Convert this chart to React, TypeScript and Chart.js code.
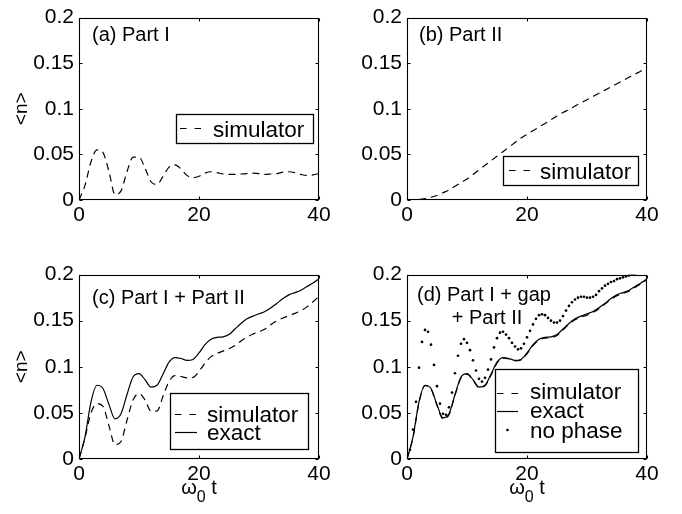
import React, { useEffect, useRef } from "react";
import { Chart, registerables } from "chart.js";

Chart.register(...registerables);

// ---------------- data ----------------
const T_INT = [0, 1, 2, 3, 4, 5, 6, 7, 8, 9, 10, 11, 12, 13, 14, 15, 16, 17, 18, 19, 20,
  21, 22, 23, 24, 25, 26, 27, 28, 29, 30, 31, 32, 33, 34, 35, 36, 37, 38, 39, 40];

const T_HALF = [0, 0.5, 1, 1.5, 2, 2.5, 3, 3.5, 4, 4.5, 5, 5.5, 6, 6.5, 7, 7.5, 8, 8.5, 9, 9.5,
  10, 10.5, 11, 11.5, 12, 12.5, 13, 13.5, 14, 14.5, 15, 15.5, 16, 16.5, 17, 17.5, 18, 18.5, 19, 19.5,
  20, 20.5, 21, 21.5, 22, 22.5, 23, 23.5, 24, 24.5, 25, 25.5, 26, 26.5, 27, 27.5, 28, 28.5, 29, 29.5,
  30, 30.5, 31, 31.5, 32, 32.5, 33, 33.5, 34, 34.5, 35, 35.5, 36, 36.5, 37, 37.5, 38, 38.5, 39, 39.5, 40];

// (a) Part I — simulator
const PART1_SIM = [0, 0.016, 0.042, 0.055, 0.052, 0.031, 0.006, 0.010, 0.031, 0.047, 0.047,
  0.035, 0.020, 0.017, 0.026, 0.036, 0.0385, 0.034, 0.027, 0.0245, 0.026,
  0.0295, 0.031, 0.030, 0.0285, 0.028, 0.028, 0.0285, 0.029, 0.0295, 0.029,
  0.028, 0.0285, 0.029, 0.0305, 0.031, 0.030, 0.028, 0.027, 0.0275, 0.029];

// (b) Part II — simulator
const PART2_SIM = [0, 0, 0.0005, 0.0015, 0.003, 0.005, 0.008, 0.011, 0.015, 0.019, 0.023,
  0.028, 0.033, 0.038, 0.043, 0.048, 0.053, 0.058, 0.063, 0.068, 0.072,
  0.076, 0.080, 0.084, 0.088, 0.092, 0.096, 0.099, 0.103, 0.1065, 0.110,
  0.1135, 0.117, 0.1205, 0.124, 0.1275, 0.131, 0.1345, 0.138, 0.1415, 0.1455];

// (c) Part I + Part II
const BOTH_SIM = [0, 0.023, 0.050, 0.060, 0.057, 0.036, 0.0155, 0.019, 0.042, 0.064, 0.071,
  0.064, 0.052, 0.052, 0.068, 0.084, 0.0905, 0.0895, 0.088, 0.0885, 0.095,
  0.104, 0.111, 0.1145, 0.117, 0.1195, 0.123, 0.128, 0.132, 0.1355, 0.138,
  0.141, 0.146, 0.150, 0.153, 0.1555, 0.158, 0.161, 0.165, 0.1705, 0.1765];
const BOTH_EXACT = [0, 0.024, 0.062, 0.080, 0.0765, 0.059, 0.0435, 0.049, 0.070, 0.089, 0.0925,
  0.086, 0.078, 0.080, 0.092, 0.105, 0.110, 0.109, 0.107, 0.108, 0.115,
  0.124, 0.130, 0.132, 0.1325, 0.135, 0.141, 0.147, 0.152, 0.155, 0.1575,
  0.160, 0.164, 0.169, 0.174, 0.178, 0.1805, 0.183, 0.187, 0.191, 0.1955];

// (d) Part I + gap + Part II
const GAP_SIM = [0, 0.023, 0.061, 0.0795, 0.076, 0.058, 0.0435, 0.048, 0.069, 0.088, 0.092,
  0.0855, 0.0775, 0.0795, 0.091, 0.104, 0.1095, 0.1085, 0.1065, 0.1075, 0.114,
  0.123, 0.129, 0.131, 0.1315, 0.134, 0.140, 0.146, 0.151, 0.154, 0.156,
  0.159, 0.163, 0.168, 0.173, 0.177, 0.1795, 0.182, 0.186, 0.190, 0.1945];
const GAP_EXACT = [0, 0.024, 0.062, 0.080, 0.0765, 0.059, 0.0445, 0.049, 0.070, 0.089, 0.0925,
  0.086, 0.078, 0.080, 0.092, 0.105, 0.110, 0.109, 0.107, 0.108, 0.115,
  0.124, 0.130, 0.132, 0.1325, 0.135, 0.141, 0.147, 0.152, 0.155, 0.1575,
  0.160, 0.164, 0.169, 0.174, 0.178, 0.1805, 0.183, 0.187, 0.191, 0.1955];
const GAP_NOPHASE = [0, 0.010, 0.032, 0.062, 0.099, 0.127, 0.140, 0.138, 0.124, 0.102,
  0.079, 0.060, 0.049, 0.048, 0.056, 0.072, 0.093, 0.112, 0.125, 0.130,
  0.126, 0.118, 0.107, 0.096, 0.087, 0.084, 0.088, 0.097, 0.108, 0.121,
  0.131, 0.137, 0.138, 0.135, 0.131, 0.126, 0.122, 0.119, 0.120, 0.125,
  0.132, 0.139, 0.146, 0.152, 0.156, 0.157, 0.156, 0.153, 0.150, 0.148,
  0.148, 0.150, 0.155, 0.161, 0.166, 0.170, 0.173, 0.175, 0.176, 0.176,
  0.175, 0.175, 0.176, 0.178, 0.182, 0.185, 0.188, 0.190, 0.192, 0.193,
  0.195, 0.196, 0.197, 0.198, 0.199, 0.200, 0.201, 0.202, 0.204, 0.205, 0.207];

const X_TICKS = [0, 20, 40];
const X_TICK_LABELS = ["0", "20", "40"];
const Y_TICKS = [0, 0.05, 0.1, 0.15, 0.2];
const Y_TICK_LABELS = ["0", "0.05", "0.1", "0.15", "0.2"];

const LBL_SIM = "simulator";
const LBL_EXACT = "exact";
const LBL_NOPHASE = "no phase";
const Y_TITLE = "<n>";
const X_TITLE_MAIN = "ω";
const X_TITLE_SUB = "0";
const X_TITLE_TAIL = " t";

// ---------------- style ----------------
const FONT = "'Liberation Sans', Arial, Helvetica, sans-serif";
const TICK_SIZE = 21;
const NOTE_SIZE = 20;
const LEG_SIZE = 22.5;
const DASH = [7, 5];
const LEG_DASH = [6.5, 8];

const pts = (xs: number[], ys: number[]) => xs.map((x, i) => ({ x, y: ys[i] }));

const dashed = (label: string, xs: number[], ys: number[]) => ({
  label, data: pts(xs, ys), borderColor: "#000", borderWidth: 1.2, borderDash: DASH,
  pointRadius: 0, cubicInterpolationMode: "monotone", fill: false,
});
const solid = (label: string, xs: number[], ys: number[]) => ({
  label, data: pts(xs, ys), borderColor: "#000", borderWidth: 1.2,
  pointRadius: 0, cubicInterpolationMode: "monotone", fill: false,
});
const dots = (label: string, xs: number[], ys: number[]) => ({
  label, data: pts(xs, ys), showLine: false, pointRadius: 1.35, pointBorderWidth: 0,
  pointBackgroundColor: "#000", borderColor: "#000", clip: 0,
});

type Row = { ds: number; kind: "dash" | "solid" | "dot"; base: number; lineY: number };
type LegendSpec = { left: number; top: number; width: number; height: number; s0: number; s1: number; tx: number; rows: Row[] };
type Note = { text: string; x: number; y: number; align: "left" | "center" };

const framePlugin = {
  id: "frame",
  afterDraw(chart: any, _args: any, opts: any) {
    const { ctx, chartArea: a, scales } = chart;
    const xs = scales.x, ys = scales.y;
    const L = Math.round(a.left) + 0.5, R = Math.round(a.right) - 0.5;
    const T = Math.round(a.top) + 0.5, B = Math.round(a.bottom) - 0.5;
    ctx.save();
    ctx.strokeStyle = "#000";
    ctx.lineWidth = 1.1;
    ctx.setLineDash([]);
    ctx.strokeRect(L, T, R - L, B - T);
    const tl = 3;
    ctx.beginPath();
    xs.ticks.forEach((t: any) => {
      const p = Math.round(xs.getPixelForValue(t.value)) + 0.5;
      ctx.moveTo(p, B); ctx.lineTo(p, B - tl);
      ctx.moveTo(p, T); ctx.lineTo(p, T + tl);
    });
    ys.ticks.forEach((t: any) => {
      const p = Math.round(ys.getPixelForValue(t.value)) + 0.5;
      ctx.moveTo(L, p); ctx.lineTo(L + tl, p);
      ctx.moveTo(R, p); ctx.lineTo(R - tl, p);
    });
    ctx.stroke();

    // x-axis title with subscript
    if (opts.xTitle) {
      ctx.fillStyle = "#000";
      ctx.textAlign = "left";
      ctx.textBaseline = "alphabetic";
      const mainF = `20px ${FONT}`;
      const subF = `16px ${FONT}`;
      ctx.font = mainF;
      const w1 = ctx.measureText(X_TITLE_MAIN).width;
      const w3 = ctx.measureText(X_TITLE_TAIL).width;
      ctx.font = subF;
      const w2 = ctx.measureText(X_TITLE_SUB).width;
      const cx = (a.left + a.right) / 2;
      let x0 = cx - (w1 + w2 + w3) / 2;
      const base = opts.xTitleBase;
      ctx.font = mainF;
      ctx.fillText(X_TITLE_MAIN, x0, base);
      ctx.font = subF;
      ctx.fillText(X_TITLE_SUB, x0 + w1, base + 7.5);
      ctx.font = mainF;
      ctx.fillText(X_TITLE_TAIL, x0 + w1 + w2, base);
    }

    // annotations
    ctx.fillStyle = "#000";
    ctx.font = `${NOTE_SIZE}px ${FONT}`;
    ctx.textBaseline = "middle";
    (opts.notes || []).forEach((n: Note) => {
      ctx.textAlign = n.align;
      ctx.fillText(n.text, n.x, n.y);
    });

    // legend
    const lg: LegendSpec | undefined = opts.legend;
    if (lg) {
      ctx.fillStyle = "#fff";
      ctx.fillRect(lg.left, lg.top, lg.width, lg.height);
      ctx.strokeStyle = "#000";
      ctx.lineWidth = 1.3;
      ctx.strokeRect(lg.left + 0.5, lg.top + 0.5, lg.width, lg.height);
      ctx.font = `${LEG_SIZE}px ${FONT}`;
      ctx.textAlign = "left";
      ctx.textBaseline = "alphabetic";
      lg.rows.forEach((r) => {
        const ds = chart.data.datasets[r.ds];
        ctx.lineWidth = 1.2;
        if (r.kind === "dot") {
          ctx.fillStyle = "#000";
          ctx.beginPath();
          ctx.arc((lg.s0 + lg.s1) / 2, r.lineY, 1.35, 0, Math.PI * 2);
          ctx.fill();
        } else {
          ctx.setLineDash(r.kind === "dash" ? LEG_DASH : []);
          ctx.beginPath();
          ctx.moveTo(lg.s0, r.lineY + 0.5);
          ctx.lineTo(lg.s1, r.lineY + 0.5);
          ctx.stroke();
          ctx.setLineDash([]);
        }
        ctx.fillStyle = "#000";
        ctx.fillText(ds.label, lg.tx, r.base);
      });
    }
    ctx.restore();
  },
};

type PanelSpec = {
  left: number; top: number; w: number; h: number;
  yW: number; xH: number; padTop: number; padRight: number;
  yTitle: boolean; xTitle: boolean;
  datasets: any[]; legend: LegendSpec; notes: Note[];
};

function Panel({ spec }: { spec: PanelSpec }) {
  const ref = useRef<HTMLCanvasElement | null>(null);
  useEffect(() => {
    if (!ref.current) return;
    const chart = new Chart(ref.current, {
      type: "line",
      data: { datasets: spec.datasets },
      plugins: [framePlugin],
      options: {
        animation: false,
        responsive: false,
        devicePixelRatio: window.devicePixelRatio || 1,
        layout: { autoPadding: false, padding: { top: spec.padTop, right: spec.padRight, left: 0, bottom: 0 } },
        plugins: {
          legend: { display: false },
          tooltip: { enabled: false },
          // @ts-ignore
          frame: { legend: spec.legend, notes: spec.notes, xTitle: spec.xTitle, xTitleBase: 237 },
        },
        scales: {
          x: {
            type: "linear", min: 0, max: 40,
            afterBuildTicks: (s: any) => { s.ticks = X_TICKS.map((v) => ({ value: v })); },
            afterFit: (s: any) => { s.height = spec.xH; },
            grid: { display: false, drawTicks: false },
            border: { display: false },
            ticks: {
              padding: 3, color: "#000", maxRotation: 0, autoSkip: false,
              font: { family: FONT, size: TICK_SIZE },
              callback: (_v: any, i: number) => X_TICK_LABELS[i],
            },
          },
          y: {
            type: "linear", min: 0, max: 0.2,
            afterBuildTicks: (s: any) => { s.ticks = Y_TICKS.map((v) => ({ value: v })); },
            afterFit: (s: any) => { s.width = spec.yW; },
            grid: { display: false, drawTicks: false },
            border: { display: false },
            ticks: {
              padding: 5, color: "#000", autoSkip: false,
              font: { family: FONT, size: TICK_SIZE },
              callback: (_v: any, i: number) => Y_TICK_LABELS[i],
            },
            title: {
              display: spec.yTitle, text: Y_TITLE, color: "#000",
              font: { family: FONT, size: 19 }, padding: { top: 10, bottom: 0 },
            },
          },
        },
      } as any,
    });
    return () => chart.destroy();
  }, [spec]);
  return (
    <canvas
      ref={ref}
      width={spec.w}
      height={spec.h}
      style={{ position: "absolute", left: spec.left, top: spec.top, width: spec.w, height: spec.h }}
    />
  );
}

const PANELS: PanelSpec[] = [
  {
    left: 0, top: 0, w: 341, h: 257, yW: 79, xH: 57, padTop: 11, padRight: 22,
    yTitle: true, xTitle: false,
    datasets: [dashed(LBL_SIM, T_INT, PART1_SIM)],
    legend: { left: 176, top: 114, width: 137, height: 29, s0: 180, s1: 202, tx: 213,
      rows: [{ ds: 0, kind: "dash", base: 136.5, lineY: 128 }] },
    notes: [{ text: "(a) Part I", x: 92, y: 35, align: "left" }],
  },
  {
    left: 341, top: 0, w: 341, h: 257, yW: 66, xH: 57, padTop: 11, padRight: 35,
    yTitle: false, xTitle: false,
    datasets: [dashed(LBL_SIM, T_INT, PART2_SIM)],
    legend: { left: 162, top: 156, width: 135, height: 29, s0: 168, s1: 189, tx: 199,
      rows: [{ ds: 0, kind: "dash", base: 178.5, lineY: 170 }] },
    notes: [{ text: "(b) Part II", x: 78, y: 35, align: "left" }],
  },
  {
    left: 0, top: 257, w: 341, h: 257, yW: 79, xH: 55, padTop: 13, padRight: 22,
    yTitle: true, xTitle: true,
    datasets: [dashed(LBL_SIM, T_INT, BOTH_SIM), solid(LBL_EXACT, T_INT, BOTH_EXACT)],
    legend: { left: 170, top: 136, width: 138, height: 56, s0: 175, s1: 197, tx: 207,
      rows: [
        { ds: 0, kind: "dash", base: 165, lineY: 157 },
        { ds: 1, kind: "solid", base: 183, lineY: 175 },
      ] },
    notes: [{ text: "(c) Part I + Part II", x: 92, y: 41.5, align: "left" }],
  },
  {
    left: 341, top: 257, w: 341, h: 257, yW: 66, xH: 55, padTop: 13, padRight: 35,
    yTitle: false, xTitle: true,
    datasets: [
      dashed(LBL_SIM, T_INT, GAP_SIM),
      solid(LBL_EXACT, T_INT, GAP_EXACT),
      dots(LBL_NOPHASE, T_HALF, GAP_NOPHASE),
    ],
    legend: { left: 154, top: 112, width: 143, height: 83, s0: 156, s1: 177, tx: 189,
      rows: [
        { ds: 0, kind: "dash", base: 142, lineY: 136 },
        { ds: 1, kind: "solid", base: 161, lineY: 154 },
        { ds: 2, kind: "dot", base: 181, lineY: 173 },
      ] },
    notes: [
      { text: "(d) Part I + gap", x: 76, y: 38.5, align: "left" },
      { text: "+ Part II", x: 146, y: 61, align: "center" },
    ],
  },
];

export default function App() {
  return (
    <div style={{ position: "fixed", left: 0, top: 0, width: 682, height: 514, background: "#fff" }}>
      {PANELS.map((p, i) => (
        <Panel key={i} spec={p} />
      ))}
    </div>
  );
}
